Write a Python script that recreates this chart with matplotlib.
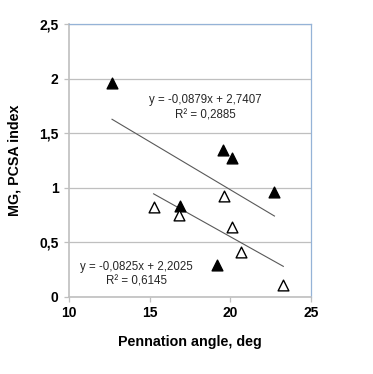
import numpy as np
import matplotlib.pyplot as plt

# Данные
angle_filled = [12.67, 19.58, 20.1, 22.75, 16.9, 19.2]
pcsa_filled = [1.96, 1.35, 1.27, 0.96, 0.83, 0.29]
angle_open = [15.25, 16.8, 19.6, 20.1, 20.7, 23.3]
pcsa_open = [0.82, 0.75, 0.92, 0.64, 0.41, 0.11]

# Коэффициенты линий тренда [k, m]
w_filled = [-0.0879, 2.7407]
w_open = [-0.0825, 2.2025]
eq_filled = ["y = -0,0879x + 2,7407", "R² = 0,2885"]
eq_open = ["y = -0,0825x + 2,2025", "R² = 0,6145"]

xticks = [10, 15, 20, 25]
yticks = [0, 0.5, 1, 1.5, 2, 2.5]
yticklabels = ["0", "0,5", "1", "1,5", "2", "2,5"]

plt.rcParams['font.family'] = ['Liberation Sans', 'DejaVu Sans']

fig = plt.figure(figsize=(3.73, 3.74), dpi=100)
ax = fig.add_axes([0.185, 0.206, 0.648, 0.730])

grid_c = "#bfbfbf"
ax.grid(axis="y", color=grid_c, linewidth=0.9)
ax.set_axisbelow(True)

# Линии тренда
for xs, w in [(angle_filled, w_filled), (angle_open, w_open)]:
    x_min, x_max = min(xs), max(xs)
    ax.plot([x_min, x_max], [w[0] * x_min + w[1], w[0] * x_max + w[1]],
            color="#595959", linewidth=0.8, zorder=2)

ax.scatter(angle_filled, pcsa_filled, marker="^", s=60, c="black", zorder=3)
ax.scatter(angle_open, pcsa_open, marker="^", s=60, facecolors="white",
           edgecolors="black", linewidths=1.0, zorder=3)

txt_kw = dict(ha="center", va="center", fontsize=8.3, color="#262626")
ax.text(18.45, 1.80, eq_filled[0], **txt_kw)
ax.text(18.45, 1.665, eq_filled[1], **txt_kw)
ax.text(14.2, 0.275, eq_open[0], **txt_kw)
ax.text(14.2, 0.137, eq_open[1], **txt_kw)

ax.set_xlim(10, 25)
ax.set_ylim(0, 2.5)
ax.set_xticks(xticks)
ax.set_yticks(yticks)
ax.set_yticklabels(yticklabels)
for lbl in ax.get_xticklabels() + ax.get_yticklabels():
    lbl.set_fontweight("bold")
    lbl.set_fontsize(10)
ax.tick_params(axis="both", length=3.5, width=0.9, color=grid_c)
ax.tick_params(axis="x", pad=3)
ax.tick_params(axis="y", pad=4)

for side in ["left", "bottom"]:
    ax.spines[side].set_color(grid_c)
    ax.spines[side].set_linewidth(1.2)
for side in ["top", "right"]:
    ax.spines[side].set_color("#95b3d7")
    ax.spines[side].set_linewidth(0.9)

ax.set_xlabel("Pennation angle, deg", fontsize=10.3, fontweight="bold", labelpad=11)
ax.set_ylabel("MG, PCSA index", fontsize=10.3, fontweight="bold", labelpad=13)

fig.savefig("out.png", dpi=100)
